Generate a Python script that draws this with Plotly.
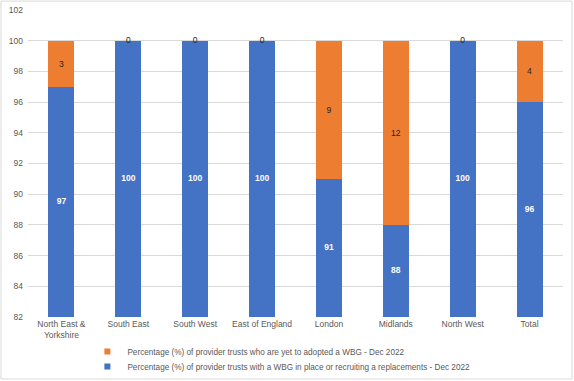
import plotly.graph_objects as go

categories = ["North East &<br>Yorkshire", "South East", "South West", "East of England",
              "London", "Midlands", "North West", "Total"]
with_wbg = [97, 100, 100, 100, 91, 88, 100, 96]
yet_to_adopt = [3, 0, 0, 0, 9, 12, 0, 4]
name_with = "Percentage (%) of provider trusts with a WBG in place or recruiting a replacements - Dec 2022"
name_yet = "Percentage (%) of provider trusts who are yet to adopted a WBG - Dec 2022"
y_min, y_max = 82, 102
y_ticks = [82, 84, 86, 88, 90, 92, 94, 96, 98, 100, 102]

BLUE = "#4472C4"
ORANGE = "#ED7D31"
FONT = "Liberation Sans, Arial, sans-serif"
FS = 8.5

fig = go.Figure()
fig.add_trace(go.Bar(
    x=categories, y=with_wbg, name=name_with, marker_color=BLUE,
    marker_line_width=0, width=0.39, showlegend=False, hoverinfo="y",
))
fig.add_trace(go.Bar(
    x=categories, y=yet_to_adopt, name=name_yet, marker_color=ORANGE,
    marker_line_width=0, width=0.39, showlegend=False,
    text=[str(v) if v > 0 else "" for v in yet_to_adopt], textposition="inside",
    insidetextanchor="middle",
    textfont=dict(color="#262626", size=FS, family=FONT),
))
# blue labels: centered on the visible part of the bar
fig.add_trace(go.Scatter(
    x=categories, y=[(y_min + w) / 2 for w in with_wbg], mode="text",
    text=["<b>%d</b>" % w for w in with_wbg], textposition="middle center",
    showlegend=False, hoverinfo="skip",
    textfont=dict(color="white", size=FS, family=FONT),
))
# zero-value labels
zero_x = [c for c, v in zip(categories, yet_to_adopt) if v == 0]
zero_y = [w + v for w, v in zip(with_wbg, yet_to_adopt) if v == 0]
fig.add_trace(go.Scatter(
    x=zero_x, y=zero_y, mode="text", text=["0"] * len(zero_x),
    textposition="middle center", showlegend=False, hoverinfo="skip",
    textfont=dict(color="#262626", size=FS, family=FONT),
))
# legend entries (small square markers), each in its own legend for tight spacing
fig.add_trace(go.Scatter(x=[None], y=[None], mode="markers", name=name_yet,
                         legend="legend",
                         marker=dict(symbol="square", size=6, color=ORANGE)))
fig.add_trace(go.Scatter(x=[None], y=[None], mode="markers", name=name_with,
                         legend="legend2",
                         marker=dict(symbol="square", size=6, color=BLUE)))

leg_common = dict(orientation="v", x=0.111, xanchor="left", yanchor="top",
                  font=dict(size=8.2, color="#595959"), itemwidth=30,
                  bgcolor="rgba(0,0,0,0)")

fig.update_layout(
    barmode="stack",
    width=574, height=381,
    margin=dict(l=28, r=11, t=10, b=64, autoexpand=False),
    paper_bgcolor="white", plot_bgcolor="white",
    font=dict(family=FONT, size=FS, color="#595959"),
    showlegend=True,
    legend=dict(y=-0.065, **leg_common),
    legend2=dict(y=-0.114, **leg_common),
    shapes=[dict(type="rect", xref="paper", yref="paper", x0=-0.0505, x1=1.0168,
                 y0=-0.202, y1=1.029, line=dict(color="#d9d9d9", width=1))],
)
fig.update_xaxes(showgrid=False, showline=False, ticks="", tickangle=0, automargin=False,
                 tickfont=dict(size=FS, color="#595959"))
fig.update_yaxes(range=[y_min, y_max], tickvals=y_ticks, showgrid=True, gridcolor="#d9d9d9",
                 zeroline=False, ticks="", automargin=False, ticklabelstandoff=4,
                 tickfont=dict(size=FS, color="#595959"))

fig.write_html("out.html", post_script="document.body.style.margin='0';",
               config={"displayModeBar": False})
